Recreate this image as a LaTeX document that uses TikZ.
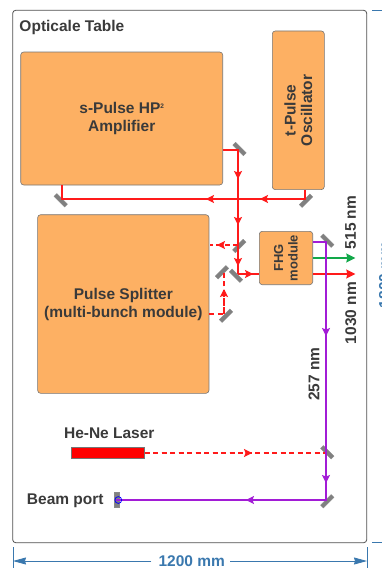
\documentclass[tikz,border=0pt]{standalone}
\usepackage{fontspec}
\setmainfont{Liberation Sans}
\usetikzlibrary{calc,arrows.meta,positioning}
\definecolor{mbox}{HTML}{FDB063}
\definecolor{mtext}{HTML}{3A3A3A}
\definecolor{mgray}{HTML}{808080}
\definecolor{mred}{HTML}{FF1A1A}
\definecolor{mviolet}{HTML}{A21CD6}
\definecolor{mgreen}{HTML}{12A84A}
\definecolor{mdim}{HTML}{3A78AE}
\tikzset{
  module/.style={fill=mbox,draw=mtext!70,rounded corners=3pt,line width=0.6pt,inner sep=0pt,font=\bfseries\fontsize{15.5}{18}\selectfont,text=mtext,align=center},
  lbl/.style={font=\bfseries\fontsize{15.5}{18}\selectfont,text=mtext,inner sep=0pt},
  mirror/.style={fill=mgray,draw=mtext!60,line width=0.4pt,minimum width=15pt,minimum height=4pt,inner sep=0pt,rotate=#1},
  beam/.style={line width=1.3pt,mred},
  beamd/.style={beam,dash pattern=on 5pt off 3.5pt},
  uvbeam/.style={line width=1.3pt,mviolet},
  arr/.style={-{Stealth[length=8pt,width=8pt,inset=1.5pt]}},
  arrout/.style={-{Stealth[length=9pt,width=9pt,inset=1pt]}},
  dim/.style={mdim,line width=0.8pt},
  dimtip/.style={dim,-{Stealth[length=13pt,width=7pt,inset=1pt]}},
}
\begin{document}
\begin{tikzpicture}[x=1pt,y=-1pt]
  \useasboundingbox (0,0) rectangle (382,568);
  % table
  \node[draw=mtext!90,rounded corners=3pt,line width=0.8pt,minimum width=354pt,minimum height=532.4pt,inner sep=0pt] (table) at (189.7,276.5) {};
  \node[lbl,anchor=west] (title) at (19.3,27) {Opticale Table};
  % modules
  \node[module,minimum width=202pt,minimum height=133pt] (amp) at (121.7,118.5) {s-Pulse HP\raisebox{0.62ex}{\fontsize{6.5}{7}\selectfont 2}\\Amplifier};
  \node[module,rotate=90,minimum width=158.7pt,minimum height=52pt,font=\bfseries\fontsize{15.5}{16.5}\selectfont] (osc) at (298.3,110.3) {t-Pulse\\Oscillator};
  \node[module,minimum width=171.3pt,minimum height=178.6pt] (split) at (123.3,304) {Pulse Splitter\\(multi-bunch module)};
  \node[module,rotate=90,minimum width=53.4pt,minimum height=53.4pt,font=\bfseries\fontsize{13}{14.5}\selectfont] (fhg) at (286,258) {FHG\\module};
  \node[fill=red,draw=mtext!70,line width=0.5pt,minimum width=73.3pt,minimum height=11pt,inner sep=0pt] (hene) at (107.7,453) {};
  \node[lbl] (henetxt) at (109.3,433) {He-Ne Laser};
  \node[lbl] (porttxt) at (65.3,500.7) {Beam port};
  % mirrors
  \node[mirror=-45] (m1) at (239.5,149) {};
  \node[mirror=-45] (m2) at (60.7,200.3) {};
  \node[mirror=45] (m3) at (306,200.7) {};
  \node[mirror=45] (m4) at (239.3,246) {};
  \node[mirror=-45] (m5) at (236,275.7) {};
  \node[mirror=45] (m6) at (222,272.3) {};
  \node[mirror=45] (m7) at (226,315.7) {};
  \node[mirror=-45] (m8) at (327.3,240.7) {};
  \node[mirror=-45] (m9) at (327.3,452.3) {};
  \node[mirror=45] (m10) at (327.3,501.3) {};
  \node[mirror=90,minimum width=15pt,minimum height=5pt] (port) at (116.3,499.7) {};
  % corners of the beams
  \coordinate (c1) at (62,199);
  \coordinate (c2) at (238,199);
  \coordinate (c3) at (305,199);
  \coordinate (c4) at (238,150);
  \coordinate (c5) at (238,274);
  \coordinate (c6) at (224,314);
  \coordinate (c7) at (224,272);
  \coordinate (c8) at (326,242);
  \coordinate (c9) at (326,453);
  \coordinate (c10) at (326,500);
  % infrared beams
  \draw[beam] (amp.east |- c4) -- (c4) -- (c5);
  \draw[beam,arr] (c4) -- (238,179);
  \draw[beam,arr] (c4) -- (238,225);
  \draw[beam,arr] (c4) -- (238,266);
  \draw[beam] (osc.west -| c3) -- (c3) -- (c1) -- (amp.south -| c1);
  \draw[beam,arr] (c3) -- (260,199);
  \draw[beam,arr] (c3) -- (206,199);
  \draw[beam,arr] (c5) -- (253,274);
  \draw[beam] (c5) -- (fhg.north |- c5);
  % dashed beams
  \draw[beamd] (238,245) -- (209.5,245);
  \draw[beamd,arr] (238,245) -- (217,245);
  \draw[beamd] (split.east |- c6) -- (c6) -- (c7);
  \draw[beamd,arr] (c6) -- (c6 |- 0,289);
  \draw[beamd] (hene.east) -- (c9);
  \draw[beamd,arr] (hene.east) -- (252,453);
  % outputs of the FHG module
  \draw[beam,arrout] (fhg.south |- c5) -- (355.3,274);
  \draw[line width=1.3pt,mgreen,arrout] (fhg.south) -- (355.3,258);
  \draw[uvbeam] (fhg.south |- c8) -- (c8) -- (c10) -- (port.center |- c10);
  \draw[uvbeam,arr] (c8) -- (326,336);
  \draw[uvbeam,arr] (c8) -- (326,483);
  \draw[uvbeam,arr] (c10) -- (246,500);
  \draw[blue,line width=0.8pt] (118.3,500) circle (3.4pt);
  % wavelengths
  \node[lbl,rotate=90] (l515) at (350.7,222.5) {515 nm};
  \node[lbl,rotate=90] (l1030) at (350.7,313) {1030 nm};
  \node[lbl,rotate=90] (l257) at (314,374) {257 nm};
  % dimensions
  \coordinate (d1) at (13,561);
  \coordinate (d2) at (367,561);
  \draw[dim] (13,547) -- (13,568) (367,547) -- (367,568);
  \node[font=\bfseries\fontsize{15.5}{18}\selectfont,text=mdim,inner sep=0pt] (dimtxt) at (191.7,561) {1200 mm};
  \draw[dimtip] ($(dimtxt.west)+(-7,0)$) -- (d1);
  \draw[dimtip] ($(dimtxt.east)+(5,0)$) -- (d2);
  \draw[dim] (372,10.5) -- (382,10.5) (372,542.7) -- (382,542.7);
  \node[rotate=90,font=\bfseries\fontsize{15.5}{18}\selectfont,text=mdim,inner sep=0pt] (hdim) at (384.5,275) {1800 mm};
\end{tikzpicture}
\end{document}
